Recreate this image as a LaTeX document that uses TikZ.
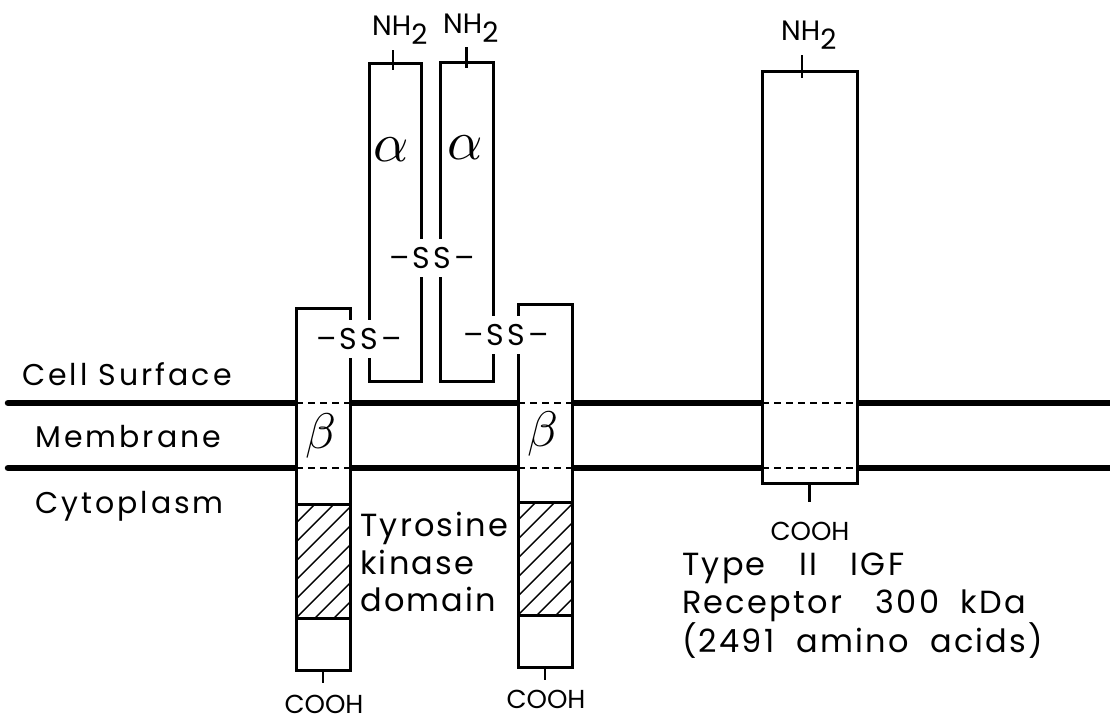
\documentclass[tikz,border=0pt]{standalone}
\usepackage{fontspec}
\setmainfont{Poppins}
\newfontfamily\trackfont{Poppins}[LetterSpace=10]
\newfontfamily\widefont{Poppins}[LetterSpace=7, WordSpace=2]
\newcommand{\lblfont}{\trackfont\fontsize{30}{34}\selectfont}
\newcommand{\bigfont}{\widefont\fontsize{32}{37.5}\selectfont}
\newcommand{\coofont}{\fontsize{26}{30}\selectfont}
\newcommand{\nhfont}{\fontsize{28}{32}\selectfont}
\newcommand{\nhtwo}{NH\raisebox{-9pt}{2}}
\newcommand{\gap}{\hspace{12pt}}
\tikzstyle{chain} = [draw, fill=white, line width=3pt, inner sep=0pt, outer sep=0pt]
\tikzstyle{kinase} = [chain, path picture={
  \foreach \k in {-7,...,3}
    \draw[line width=1.4pt] ([xshift=\k*19pt]path picture bounding box.south west) -- +(130pt,130pt);}]
\tikzstyle{membrane} = [line width=6.5pt, line cap=round]
\tikzstyle{memdash} = [line width=1.7pt, dash pattern=on 7pt off 5pt]
\tikzstyle{tick} = [line width=2.2pt]
\tikzstyle{ss} = [fill=white, inner xsep=1pt, minimum height=38pt, font=\lblfont]
\tikzstyle{lbl} = [inner sep=0pt, font=\lblfont]
\tikzstyle{nh} = [inner sep=0pt, font=\nhfont]
\tikzstyle{coo} = [inner sep=0pt, font=\coofont]
\tikzstyle{big} = [inner sep=0pt, font=\bigfont, align=left]

\begin{document}
\begin{tikzpicture}[x=1pt, y=-1pt]
  \useasboundingbox (0,0) rectangle (1110,720);
  % membrane
  \coordinate (upW) at (8,403);
  \coordinate (upE) at (1110,403);
  \coordinate (loW) at (8,468);
  \coordinate (loE) at (1110,468);
  \draw[membrane] (upW) -- (upE);
  \draw[membrane] (loW) -- (loE);
  % chains
  \node[chain, minimum width=52pt, minimum height=318pt] (aL) at (395,222) {};
  \node[chain, minimum width=53pt, minimum height=319pt] (aR) at (466.5,221.5) {};
  \node[chain, minimum width=54pt, minimum height=362pt] (bL) at (323,489) {};
  \node[chain, minimum width=54pt, minimum height=363pt] (bR) at (545,485.5) {};
  \node[chain, minimum width=95pt, minimum height=412pt] (igf) at (809.5,277) {};
  \node[kinase, minimum width=54pt, minimum height=114pt] (kL) at (323,561) {};
  \node[kinase, minimum width=54pt, minimum height=113pt] (kR) at (545,558.5) {};
  \foreach \c in {bL,bR,igf} {
    \draw[memdash] (\c.west |- upW) -- (\c.east |- upW);
    \draw[memdash] (\c.west |- loW) -- (\c.east |- loW);
  }
  % subunits
  \node (alL) at (391,150) {\scalebox{5.5}{$\alpha$}};
  \node (alR) at (465,148) {\scalebox{5.5}{$\alpha$}};
  \node (beL) at (321,436) {\scalebox{5}{$\beta$}};
  \node (beR) at (543,434) {\scalebox{5}{$\beta$}};
  % disulfide bonds
  \node[ss] (ssM) at (432,258) {\textendash SS\textendash};
  \node[ss] (ssL) at (359,339) {\textendash SS\textendash};
  \node[ss] (ssR) at (506,335) {\textendash SS\textendash};
  % termini
  \node[nh, anchor=base west] (nhL) at (372,35) {\nhtwo};
  \node[nh, anchor=base west] (nhR) at (443,33) {\nhtwo};
  \node[nh, anchor=base west] (nhI) at (781,40) {\nhtwo};
  \draw[tick] ([xshift=-2pt,yshift=13pt]aL.north) -- ([xshift=-2pt,yshift=-7pt]aL.north);
  \draw[tick] ([yshift=15pt]aR.north) -- ([yshift=-6pt]aR.north);
  \draw[tick] ([xshift=-7.5pt,yshift=16pt]igf.north) -- ([xshift=-7.5pt,yshift=-7pt]igf.north);
  \node[coo, anchor=base] (cooL) at (324,713) {COOH};
  \node[coo, anchor=base] (cooR) at (546,708) {COOH};
  \node[coo, anchor=base] (cooI) at (810,540) {COOH};
  \draw[tick] (bL.south) -- ([yshift=-13pt]bL.south);
  \draw[tick] (bR.south) -- ([yshift=-13pt]bR.south);
  \draw[tick] (igf.south) -- ([yshift=-19pt]igf.south);
  % side labels
  \node[lbl, anchor=base west] (surf) at (22,385) {Cell Surface};
  \node[lbl, anchor=base west] (memb) at (35,447) {Membrane};
  \node[lbl, anchor=base west] (cyto) at (35,513) {Cytoplasm};
  \node[big, anchor=north west] (tkd) at (360,512) {Tyrosine\\kinase\\domain};
  \node[big, anchor=north west] (igfnote) at (682,553) {Type \gap II \gap IGF\\Receptor \gap 300 kDa\\(2491 amino acids)};
\end{tikzpicture}
\end{document}
